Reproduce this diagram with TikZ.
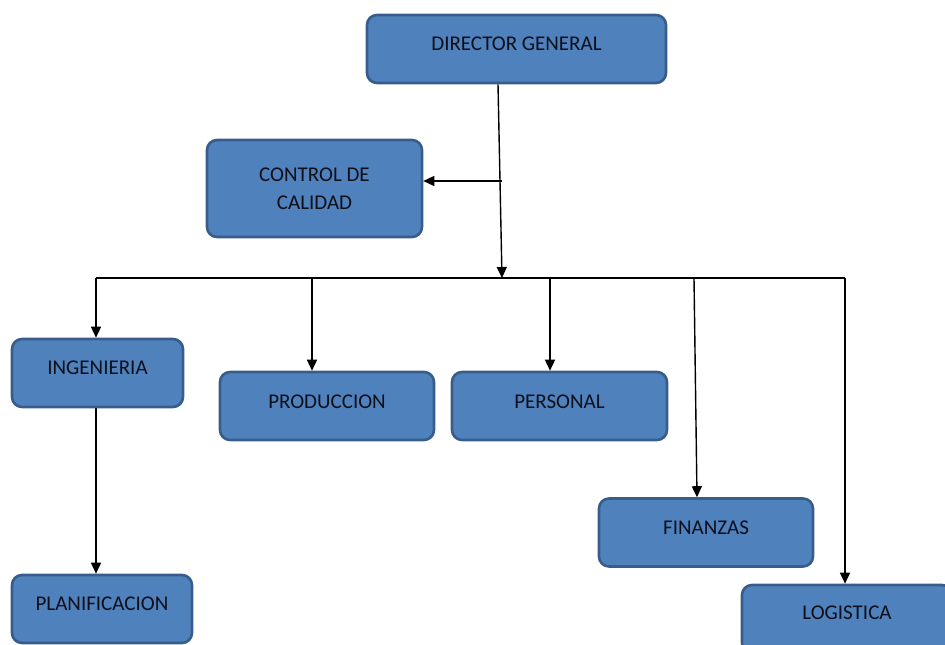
\documentclass[tikz,border=0pt]{standalone}
\usepackage{fontspec}
\setmainfont{Carlito}
\usetikzlibrary{arrows.meta,calc}
\definecolor{boxfill}{RGB}{79,129,189}
\definecolor{boxline}{RGB}{56,93,138}
\definecolor{boxtext}{RGB}{15,15,25}
\begin{document}
\begin{tikzpicture}[x=1pt,y=-1pt,
  unit/.style={draw=boxline, line width=2.6pt, fill=boxfill, rounded corners=10pt,
    inner sep=0pt, text=boxtext, font=\fontsize{21}{27}\selectfont,
    align=center, minimum height=68pt},
  link/.style={line width=1.4pt, draw=black},
  arr/.style={link, -{Triangle[width=10pt,length=11pt]}}]
\useasboundingbox (0,0) rectangle (945,645);

% units
\node[unit, minimum width=299pt] (dg)   at (516.5,49)  {\raisebox{10pt}{DIRECTOR GENERAL}};
\node[unit, minimum width=215pt, minimum height=97pt] (qc) at (314.5,188.5) {CONTROL DE\\[1pt]CALIDAD};
\node[unit, minimum width=171pt] (ing)  at (97.5,373)  {\raisebox{10pt}{INGENIERIA}};
\node[unit, minimum width=214pt] (prod) at (327,406)   {\raisebox{8pt}{PRODUCCION}};
\node[unit, minimum width=215pt] (pers) at (559.5,406) {\raisebox{8pt}{PERSONAL}};
\node[unit, minimum width=214pt] (fin)  at (706,532.5) {\raisebox{10pt}{FINANZAS}};
\node[unit, minimum width=180pt] (plan) at (102,609)   {\raisebox{10pt}{PLANIFICACION}};
\node[unit, minimum width=210pt] (log)  at (847,619)   {\raisebox{12pt}{LOGISTICA}};

% junction points
\coordinate (hub)    at (502,278);
\coordinate (qcjoin) at (502,181);
\coordinate (busL)   at (96,278);
\coordinate (busR)   at (845,278);
\coordinate (dgout)  at ($(dg.south)+(-18.5,0)$);
\coordinate (prodin) at ($(prod.north)+(-15,0)$);
\coordinate (persin) at ($(pers.north)+(-9.5,0)$);
\coordinate (finin)  at ($(fin.north)+(-9,0)$);
\coordinate (finout) at (694,278);

% trunk from the director down to the bus
\draw[arr] (dgout) -- (hub);
% side branch to quality control
\draw[arr] (qcjoin) -- (qcjoin -| qc.east);
% horizontal bus
\draw[link] (busL) -- (busR);
% drops to each department
\draw[arr] (busL) -- (busL |- ing.north);
\draw[arr] (prodin |- hub) -- (prodin);
\draw[arr] (persin |- hub) -- (persin);
\draw[arr] (finout) -- (finin);
\draw[arr] (busR) -- (busR |- log.north);
% engineering to planning
\draw[arr] (busL |- ing.south) -- (busL |- plan.north);
\end{tikzpicture}
\end{document}
